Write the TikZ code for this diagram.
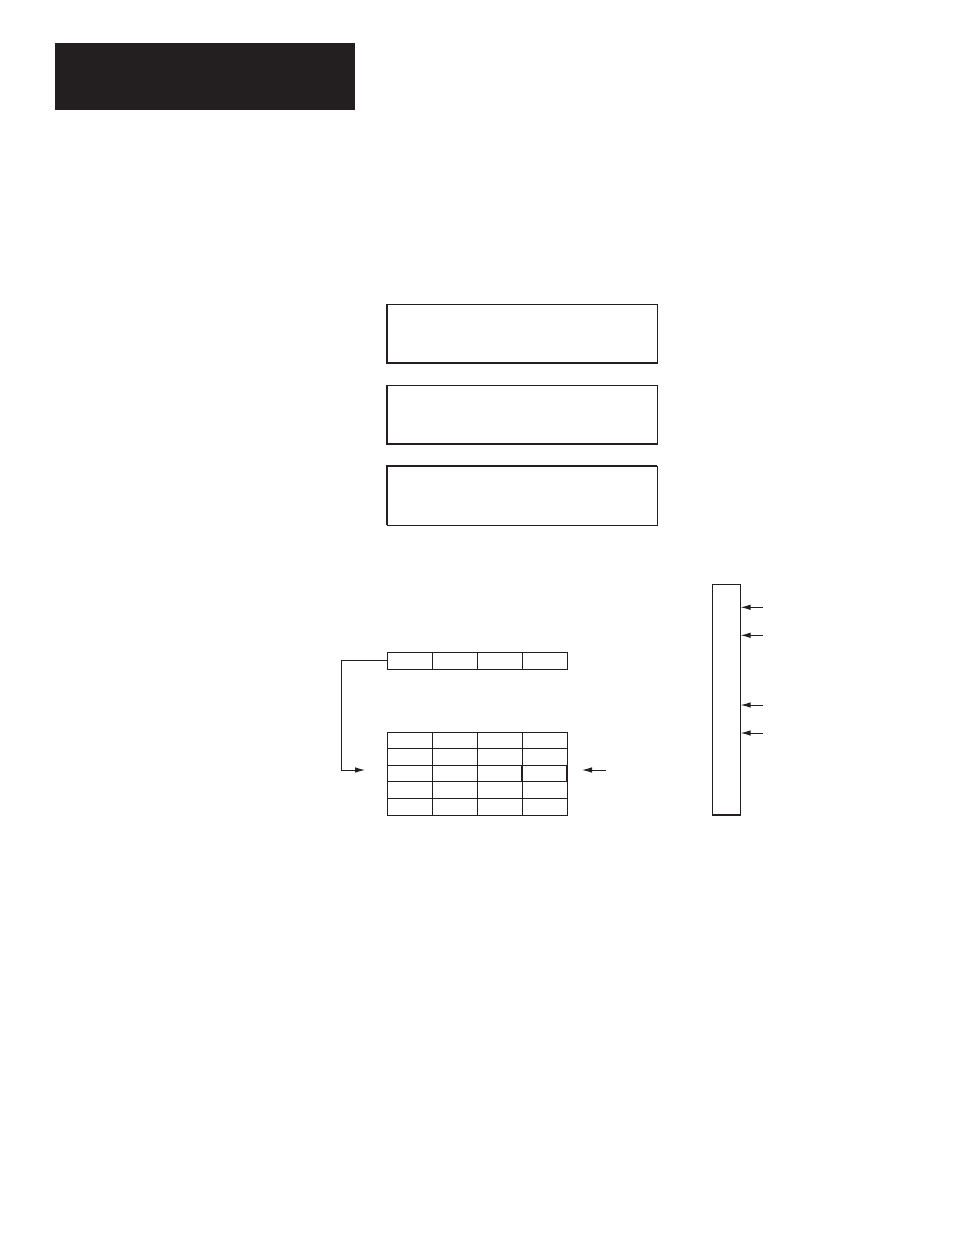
\documentclass[tikz,border=0pt]{standalone}
\usetikzlibrary{arrows.meta}
\definecolor{ink}{RGB}{35,31,32}
\begin{document}
\begin{tikzpicture}[x=0.75pt,y=-0.75pt,
  every node/.style={inner sep=0pt,outer sep=0pt},
  panel/.style={draw=ink,line width=0.65pt,minimum width=270*0.75pt,minimum height=59*0.75pt,anchor=north west},
  cell/.style={draw=ink,line width=0.75pt,minimum width=45*0.75pt,anchor=north west},
  heavy/.style={draw=ink,line width=1.5pt},
  arr/.style={draw=ink,line width=0.75pt,-{Latex[length=7.5pt,width=4.2pt]}}]
\useasboundingbox (0,0) rectangle (954,1235);
% header bar
\node[fill=ink,minimum width=300*0.75pt,minimum height=67*0.75pt,anchor=north west] (hdr) at (55,43) {};
% three panels
\node[panel] (p1) at (387,304) {};
\node[panel] (p2) at (387,385) {};
\node[panel] (p3) at (387,466) {};
\draw[heavy] (p1.north west) -- (p1.south west) -- (p1.south east);
\draw[draw=ink,line width=1.1pt] (p2.north west) -- (p2.south west) -- (p2.south east);
\draw[heavy] (p3.south west) -- (p3.north west) -- (p3.north east);
% top row of four cells
\foreach \i in {1,...,4}{
  \node[cell,minimum height=17*0.75pt] (t\i) at ({387+45*(\i-1)},652) {};
}
% bottom table 5x4
\foreach \r in {1,...,5}{
  \foreach \c in {1,...,4}{
    \node[cell,minimum height=16.6*0.75pt] (g\r\c) at ({387+45*(\c-1)},{732+16.6*(\r-1)}) {};
  }
}
\draw[heavy] (g34.north west) -- (g34.south west);
\draw[heavy] (g34.north east) -- (g34.south east);
% connector from top row to table
\coordinate (ae) at (365,770);
\draw[arr] (t1.west) -- ++(-45.3,0) |- (ae);
\coordinate (rs) at (606,770);
\coordinate (re) at (582,770);
\draw[arr] (rs) -- (re);
% right column
\node[draw=ink,line width=0.8pt,minimum width=28.4*0.75pt,minimum height=230.7*0.75pt,anchor=north west] (col) at (712.3,584.3) {};
\foreach \y/\n in {607.3/a,635.3/b,705/c,733/d}{
  \coordinate (s\n) at (763,\y);
  \draw[arr] (s\n) -- (s\n -| col.east);
}
\end{tikzpicture}
\end{document}
